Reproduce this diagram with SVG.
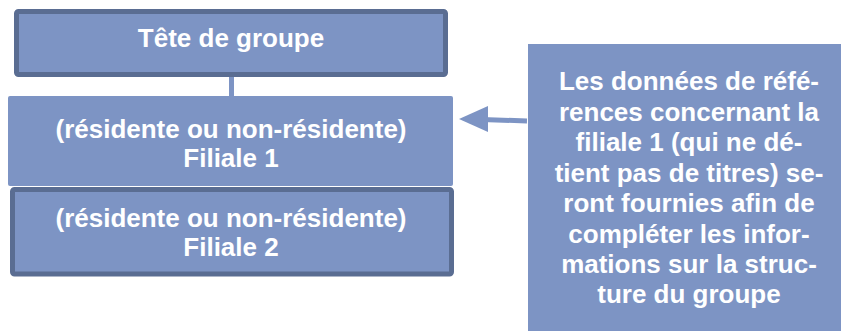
<svg xmlns="http://www.w3.org/2000/svg" width="841" height="331" viewBox="0 0 841 331">
<style>
.box{fill:#7d94c4}
.bd{stroke:#5a6d92;stroke-width:5}
.t{font-family:"Liberation Sans",Arial,sans-serif;font-weight:bold;font-size:26px;fill:#ffffff;text-anchor:middle}
.con{stroke:#7d94c4;stroke-width:5;fill:none}
</style>
<rect width="841" height="331" fill="#ffffff"/>
<g id="connectors">
<line class="con" x1="231.5" y1="76" x2="231.5" y2="97"/>
<line class="con" x1="527" y1="121" x2="482" y2="119.5"/>
<polygon points="459,119 488,106 488,132" fill="#7d94c4"/>
</g>
<g id="tete">
<rect class="box bd" x="16.5" y="11.5" width="429" height="63" rx="2"/>
<text class="t" x="231" y="47">Tête de groupe</text>
</g>
<g id="filiale1">
<rect class="box" x="8" y="96" width="445" height="90" rx="2"/>
<text class="t" x="231" y="138">(résidente ou non-résidente)</text>
<text class="t" x="231" y="167">Filiale 1</text>
</g>
<g id="filiale2">
<rect class="box bd" x="12.5" y="189.5" width="439" height="84.5" rx="2"/>
<text class="t" x="231" y="227">(résidente ou non-résidente)</text>
<text class="t" x="231" y="256">Filiale 2</text>
</g>
<g id="note">
<rect class="box" x="528" y="44" width="313" height="287"/>
<text class="t" x="689" y="90">Les données de réfé-</text>
<text class="t" x="689" y="121">rences concernant la</text>
<text class="t" x="689" y="151">filiale 1 (qui ne dé-</text>
<text class="t" x="689" y="182">tient pas de titres) se-</text>
<text class="t" x="689" y="212">ront fournies afin de</text>
<text class="t" x="689" y="243">compléter les infor-</text>
<text class="t" x="689" y="273">mations sur la struc-</text>
<text class="t" x="689" y="303">ture du groupe</text>
</g>
</svg>
